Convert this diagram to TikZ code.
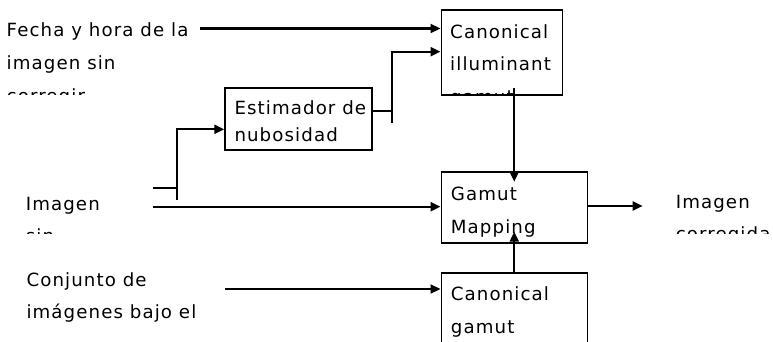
\documentclass[tikz,border=0pt]{standalone}
\usepackage{fontspec}
\setmainfont{DejaVu Sans}[LetterSpace=6]
\usetikzlibrary{arrows.meta,calc}

% stacked text lines with a given baseline distance
\newcommand\txtlines[2]{\parbox[t]{240pt}{\fontsize{18.2}{#1}\selectfont\raggedright #2}}

\tikzset{
  blk/.style={draw, line width=1.5pt, inner sep=0pt, anchor=north west},
  lbl/.style={anchor=base west, inner sep=0pt},
  flow/.style={line width=2.2pt, -{Triangle[length=10pt,width=9pt]}},
  wire/.style={line width=2.2pt},
}

\begin{document}
\begin{tikzpicture}[x=1pt,y=-1pt]
\useasboundingbox (0,0) rectangle (773,342);
\clip (0,0) rectangle (773,342);

% processing blocks
\node[blk, minimum width=121pt,   minimum height=85pt]   (ci)  at (440.5,9.3)  {};
\node[blk, minimum width=146.7pt, minimum height=61.7pt] (est) at (224.3,87.3) {};
\node[blk, minimum width=146pt,   minimum height=71.3pt] (gm)  at (440.5,171)  {};
\node[blk, minimum width=146pt,   minimum height=90pt]   (cg)  at (440.5,272.3) {};

% block captions, cut off at the block frame
\begin{scope}
  \clip (ci.north west) rectangle (ci.south east);
  \node[lbl] (ci-t) at (450,38.3) {\txtlines{32.4}{Canonical\\illuminant\\gamut}};
\end{scope}
\begin{scope}
  \clip (est.north west) rectangle (est.south east);
  \node[lbl] (est-t) at (234.3,115) {\txtlines{26.7}{Estimador de\\nubosidad}};
\end{scope}
\begin{scope}
  \clip (gm.north west) rectangle (gm.south east);
  \node[lbl] (gm-t) at (450.7,200.7) {\txtlines{32.6}{Gamut\\Mapping}};
\end{scope}
\begin{scope}
  \clip (cg.north west) rectangle (cg.south east);
  \node[lbl] (cg-t) at (450.7,300) {\txtlines{33}{Canonical\\gamut}};
\end{scope}

% inputs and output, in fixed-height text frames
\begin{scope}
  \clip (0,0) rectangle (198,95);
  \node[lbl] (fecha) at (6.5,37) {\txtlines{33}{Fecha y hora de la\\imagen sin\\corregir}};
\end{scope}
\begin{scope}
  \clip (0,180) rectangle (150,233.3);
  \node[lbl] (imgsrc) at (25.6,210) {\txtlines{32}{Imagen\\sin}};
\end{scope}
\begin{scope}
  \clip (650,180) rectangle (773,233.3);
  \node[lbl] (imgdst) at (675.6,208.3) {\txtlines{32.3}{Imagen\\corregida}};
\end{scope}
\node[lbl] (conj) at (26.3,286.7) {\txtlines{31.6}{Conjunto de\\imágenes bajo el}};

% connector end points
\coordinate (fin)   at (200,28.5);
\coordinate (jmid)  at (392.3,110.7);
\coordinate (jbot)  at (392.3,122.7);
\coordinate (jtop)  at (392.3,51.7);
\coordinate (stub)  at (152.7,188);
\coordinate (kbot)  at (176.7,200);
\coordinate (ktop)  at (176.7,129.3);
\coordinate (imgin) at (152.7,206.7);
\coordinate (imgout) at (642.7,206);
\coordinate (setin) at (225,289);

% connectors
\draw[flow] (fin) -- (fin -| ci.west);
\draw[wire] (jmid -| est.east) -- (jmid);
\draw[flow] (jbot) -- (jtop) -- (jtop -| ci.west);
\draw[wire] (stub) -- (stub -| kbot);
\draw[flow] (kbot) -- (ktop) -- (ktop -| est.west);
\draw[flow] (imgin) -- (imgin -| gm.west);
\draw[flow] (gm.east |- imgout) -- (imgout);
\draw[flow] (setin) -- (setin -| cg.west);
\draw[flow] (gm.north |- {0,88.3}) -- (gm.north |- {0,181.7});
\draw[flow] (cg.north) -- (cg.north |- {0,231.7});
\end{tikzpicture}
\end{document}
